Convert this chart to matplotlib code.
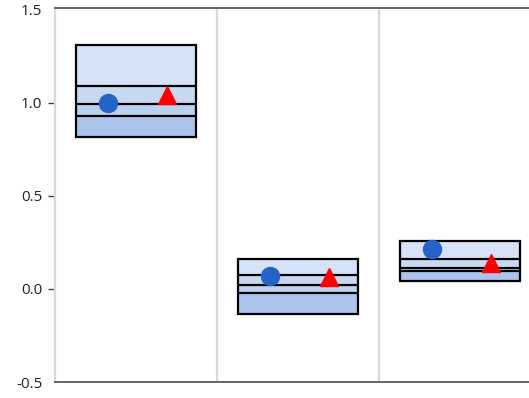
import matplotlib.pyplot as plt
import numpy as np

# values
groups = ["A", "B", "C"]
box_top = [1.312, 0.161, 0.258]
line_hi = [1.091, 0.075, 0.161]
line_mid = [0.995, 0.022, 0.115]
line_lo = [0.930, -0.022, 0.097]
box_bottom = [0.817, -0.134, 0.043]
circle_vals = [1.000, 0.072, 0.213]
triangle_vals = [1.040, 0.065, 0.140]
yticks = [-0.5, 0.0, 0.5, 1.0, 1.5]

plt.rcParams['font.family'] = ['Open Sans', 'DejaVu Sans']

fig = plt.figure(figsize=(5.29, 3.98), dpi=100)
ax = fig.add_axes([55 / 529, 16 / 398, 1 - 55 / 529, 374.5 / 398])

x = np.arange(len(groups)) + 0.5
w = 0.745
bands = [
    (box_bottom, line_lo, "#abc4ec"),
    (line_lo, line_mid, "#bcd0f0"),
    (line_mid, line_hi, "#c8d8f3"),
    (line_hi, box_top, "#d6e2f8"),
]
for lo, hi, col in bands:
    lo = np.array(lo)
    hi = np.array(hi)
    ax.bar(x, hi - lo, bottom=lo, width=w, color=col, zorder=2)

ax.bar(x, np.array(box_top) - np.array(box_bottom), bottom=box_bottom,
       width=w, fill=False, edgecolor="black", linewidth=1.6, zorder=3)
for vals in (line_hi, line_mid, line_lo):
    ax.hlines(vals, x - w / 2, x + w / 2, color="black", linewidth=1.6, zorder=3)

ax.plot(x - 0.17, circle_vals, "o", color="#2563c6", markersize=13,
        linestyle="none", zorder=4)
ax.plot(x + 0.19, triangle_vals, "^", color="#ff0000", markersize=13,
        linestyle="none", zorder=4)

ax.set_yticks(yticks)
ax.set_yticklabels(["-0.5", "0.0", "0.5", "1.0", "1.5"], fontsize=11, color="#222222")
ax.tick_params(axis="y", length=5, width=1, color="#444444", pad=4)
ticks = ax.yaxis.get_major_ticks()
ticks[0].tick1line.set_visible(False)
ticks[-1].tick1line.set_visible(False)

ax.set_xticks([0, 1, 2, 3])
ax.set_xticklabels([])
ax.tick_params(axis="x", length=0)
ax.grid(axis="x", color="#d9d9d9", linewidth=1.6, zorder=0)
ax.set_axisbelow(True)

# limits after the ticks, so set_xticks does not widen them
ax.set_xlim(0, (529 - 55) / 162)
ax.set_ylim(-0.5, 1.513)

ax.spines["right"].set_visible(False)
ax.spines["left"].set_color("#d9d9d9")
ax.spines["left"].set_linewidth(1.6)
for s in ("top", "bottom"):
    ax.spines[s].set_color("#666666")
    ax.spines[s].set_linewidth(1.4)

fig.savefig("out.png", dpi=100)
